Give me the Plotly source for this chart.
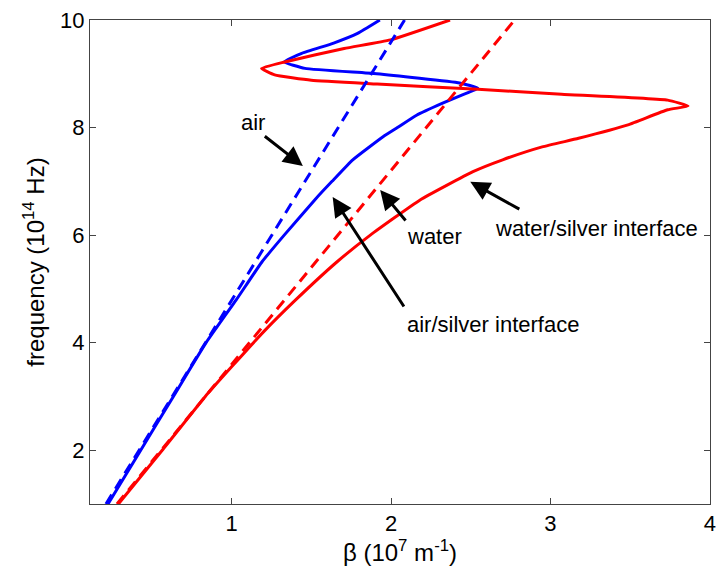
import plotly.graph_objects as go

# Light lines (dashed)
air_f = [1.0, 10.0]
air_beta = [0.212, 2.085]
water_f = [1.0, 10.0]
water_beta = [0.281, 2.775]

# Surface plasmon dispersion, air/silver interface (blue solid)
as_f = [1.0, 2.0, 3.0, 4.0, 4.8, 5.5, 6.0, 6.65, 7.0, 7.4, 7.83, 8.0, 8.23, 8.45,
        8.6, 8.73, 8.83, 9.0, 9.1, 9.22, 9.38, 9.57, 9.75, 10.0]
as_beta = [0.225, 0.43, 0.635, 0.84, 1.03, 1.19, 1.33, 1.52, 1.63, 1.76, 1.95, 2.04,
           2.16, 2.32, 2.44, 2.545, 2.43, 1.91, 1.46, 1.33, 1.44, 1.64, 1.79, 1.93]

# Water/silver interface (red solid)
ws_f = [1.0, 2.0, 3.0, 3.55, 4.2, 4.79, 5.5, 6.0, 6.65, 7.18, 7.4, 7.64, 7.8, 8.05,
        8.33, 8.4, 8.51, 8.62, 8.71, 8.81, 8.88, 8.98, 9.1, 9.22, 9.47, 9.63, 10.0]
ws_beta = [0.29, 0.565, 0.835, 1.0, 1.2, 1.40, 1.66, 1.87, 2.18, 2.514, 2.7, 2.948,
           3.176, 3.486, 3.735, 3.863, 3.735, 3.07, 2.545, 1.913, 1.5, 1.27, 1.188,
           1.333, 1.706, 1.996, 2.37]

x_ticks = [1, 2, 3, 4]
y_ticks = [2, 4, 6, 8, 10]

fig = go.Figure()
fig.add_trace(go.Scatter(x=as_beta, y=as_f, mode="lines",
                         line=dict(color="#0000ff", width=3, shape="spline", smoothing=0.4)))
fig.add_trace(go.Scatter(x=ws_beta, y=ws_f, mode="lines",
                         line=dict(color="#ff0000", width=3, shape="spline", smoothing=0.4)))
fig.add_trace(go.Scatter(x=air_beta, y=air_f, mode="lines",
                         line=dict(color="#0000ff", width=3, dash="11px,7px")))
fig.add_trace(go.Scatter(x=water_beta, y=water_f, mode="lines",
                         line=dict(color="#ff0000", width=3, dash="11px,7px")))

font = "Liberation Sans, Arial, sans-serif"
labels = [
    # text, text x, text y, anchor, arrow tip x, y, tail x, y
    ("air", 1.137, 8.085, "center", 1.447, 7.285, 1.199, 7.86),
    ("water", 2.273, 5.965, "center", 1.932, 6.84, 2.099, 6.244),
    ("water/silver interface", 2.64, 6.13, "left", 2.497, 6.99, 2.814, 6.467),
    ("air/silver interface", 2.09, 4.33, "left", 1.634, 6.709, 2.087, 4.645),
]
for text, tx, ty, anc, hx, hy, ax_, ay_ in labels:
    fig.add_annotation(x=tx, y=ty, text=text, showarrow=False, xanchor=anc,
                       font=dict(family=font, size=22, color="black"))
    fig.add_annotation(x=hx, y=hy, ax=ax_, ay=ay_, xref="x", yref="y",
                       axref="x", ayref="y", text="", showarrow=True,
                       arrowhead=2, arrowsize=1.3, arrowwidth=3, arrowcolor="black")

axis_common = dict(showgrid=False, zeroline=False, showline=True, linecolor="#444",
                   linewidth=1, mirror="ticks", ticks="inside", ticklen=6,
                   tickcolor="#444", ticklabeloverflow="allow",
                   tickfont=dict(family=font, size=22, color="black"))

fig.update_layout(
    width=718, height=579,
    margin=dict(l=90, r=2, t=20, b=75),
    paper_bgcolor="white", plot_bgcolor="white",
    showlegend=False,
    xaxis=dict(range=[0.112, 4.0005], tickvals=x_ticks,
               title=dict(text="β (10<sup>7</sup> m<sup>-1</sup>)", standoff=4,
                          font=dict(family=font, size=24, color="black")),
               **axis_common),
    yaxis=dict(range=[1, 10], tickvals=y_ticks,
               title=dict(text="frequency (10<sup>14</sup> Hz)", standoff=8,
                          font=dict(family=font, size=24, color="black")),
               **axis_common),
)

fig.write_html("out.html")
